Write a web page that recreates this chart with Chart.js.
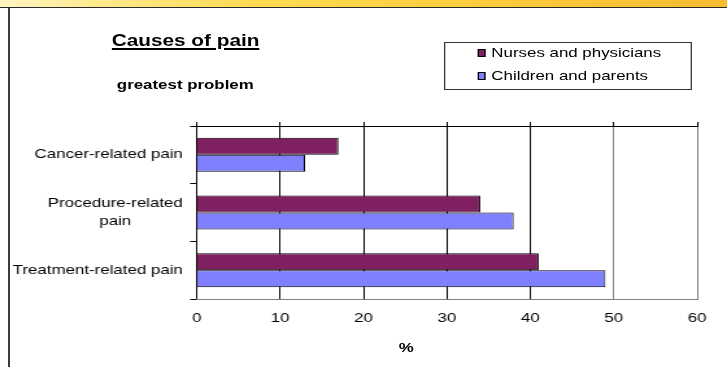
<!DOCTYPE html>
<html>
<head>
    <title>Causes of pain</title>
    <script src="https://cdn.jsdelivr.net/npm/chart.js"></script>
    <style>
        body { margin: 0; background: #fff; overflow: hidden; font-family: "Liberation Sans", Arial, sans-serif; }
        #banner {
            position: absolute; left: 0; top: 0; width: 727px; height: 7px;
            background: linear-gradient(to right, #fff5c4 0%, #ffe98a 14%, #ffdb52 35%, #fdcd3c 65%, #f7bb2f 100%);
            border-bottom: 1px solid #2a2a2a;
            z-index: 2;
        }
        #frame-left { position: absolute; left: 8px; top: 8px; width: 2px; height: 359px; background: #3c3c3c; }
        /* whole chart is drawn narrower and stretched sideways like the source picture */
        #stage {
            position: absolute; left: 0; top: 0; width: 560px; height: 367px;
            transform: scaleX(1.2982); transform-origin: 0 0;
        }
        #chart-box { position: absolute; left: 0; top: 0; width: 560px; height: 367px; }
        #title {
            position: absolute; left: 86px; top: 33px; font-size: 16px; line-height: 16px; font-weight: bold;
            text-decoration: underline; text-decoration-thickness: 2px; text-underline-offset: 2px;
        }
        #subtitle { position: absolute; left: 90px; top: 78px; font-size: 13px; line-height: 13px; font-weight: bold; }
        #legend {
            position: absolute; left: 341.5px; top: 42px; width: 189px; height: 46px;
            border: 1px solid #333;
        }
        .leg-item { position: absolute; left: 0; height: 16px; font-size: 13px; line-height: 16px; white-space: nowrap; }
        .leg-box { position: absolute; left: 25px; top: 4px; width: 4px; height: 6px; border: 1px solid #000; }
        .leg-text { position: absolute; left: 36px; top: 0; }
        #x-title { position: absolute; left: 293px; top: 340px; width: 40px; text-align: center; font-size: 13px; line-height: 16px; font-weight: bold; }
    </style>
</head>
<body>
    <div id="banner"></div>
    <div id="frame-left"></div>

    <div id="stage">
        <div id="chart-box"><canvas id="pain-chart"></canvas></div>
        <div id="title">Causes of pain</div>
        <div id="subtitle">greatest problem</div>
        <div id="legend"></div>
        <div id="x-title">%</div>
    </div>

    <script>
        // data
        const categories = ['Cancer-related pain', ['Procedure-related', 'pain'], 'Treatment-related pain'];
        const seriesNames = ['Nurses and physicians', 'Children and parents'];
        const nursesValues = [17, 34, 41];
        const childrenValues = [13, 38, 49];
        const xTickMin = 0;
        const xTickMax = 60;
        const xTickStep = 10;

        const seriesColors = ['#7f2060', '#8080ff'];
        const fontFamily = '"Liberation Sans", Arial, sans-serif';
        Chart.defaults.font.family = fontFamily;
        Chart.defaults.color = '#000';

        // html legend built from the series
        const legendEl = document.getElementById('legend');
        seriesNames.forEach((name, i) => {
            const item = document.createElement('div');
            item.className = 'leg-item';
            item.style.top = (i === 0 ? 2 : 25) + 'px';
            item.innerHTML = '<span class="leg-box" style="background:' + seriesColors[i] + '"></span>' +
                '<span class="leg-text">' + name + '</span>';
            legendEl.appendChild(item);
        });

        // category labels: block right-aligned, lines centred on each other
        const yLabelPlugin = {
            id: 'yLabels',
            afterDraw(chart) {
                const scale = chart.scales.y;
                const ctx = chart.ctx;
                const lineH = 18.2;
                const rightEdge = scale.right - 10.7;
                ctx.save();
                ctx.font = '13px ' + fontFamily;
                ctx.fillStyle = '#000';
                ctx.textAlign = 'center';
                ctx.textBaseline = 'middle';
                categories.forEach((label, i) => {
                    const lines = Array.isArray(label) ? label : [label];
                    const maxW = Math.max(...lines.map(l => ctx.measureText(l).width));
                    const cx = rightEdge - maxW / 2;
                    const cy = scale.getPixelForTick(i);
                    lines.forEach((l, j) => {
                        ctx.fillText(l, cx, cy + (j - (lines.length - 1) / 2) * lineH);
                    });
                });
                ctx.restore();
            }
        };

        const ctx = document.getElementById('pain-chart').getContext('2d');
        new Chart(ctx, {
            type: 'bar',
            data: {
                labels: categories,
                datasets: [
                    {
                        label: seriesNames[0],
                        data: nursesValues,
                        xAxisID: 'x',
                        backgroundColor: seriesColors[0],
                        borderColor: '#000',
                        borderWidth: 1,
                        categoryPercentage: 0.59,
                        barPercentage: 1.0
                    },
                    {
                        label: seriesNames[1],
                        data: childrenValues,
                        xAxisID: 'x',
                        backgroundColor: seriesColors[1],
                        borderColor: '#000',
                        borderWidth: 1,
                        categoryPercentage: 0.59,
                        barPercentage: 1.0
                    }
                ]
            },
            options: {
                indexAxis: 'y',
                responsive: true,
                maintainAspectRatio: false,
                animation: false,
                layout: { padding: { left: 0, right: 23, top: 0, bottom: 0 } },
                plugins: {
                    legend: { display: false },
                    tooltip: { enabled: false }
                },
                scales: {
                    y: {
                        type: 'category',
                        position: 'left',
                        afterFit: s => { s.width = 151.5; },
                        grid: {
                            offset: true,
                            drawOnChartArea: false,
                            drawTicks: true,
                            tickLength: 5,
                            color: '#000'
                        },
                        border: { display: true, color: '#000' },
                        ticks: { display: false }
                    },
                    x: {
                        type: 'linear',
                        position: 'bottom',
                        min: xTickMin,
                        max: xTickMax,
                        afterFit: s => { s.height = 68; },
                        grid: {
                            drawTicks: false,
                            color: c => (c.tick && c.tick.value >= 50 ? '#808080' : '#000'),
                            lineWidth: 1
                        },
                        border: { display: true, color: '#808080' },
                        ticks: {
                            stepSize: xTickStep,
                            padding: 12,
                            font: { size: 13 },
                            color: '#000'
                        }
                    },
                    xTop: {
                        type: 'linear',
                        axis: 'x',
                        position: 'top',
                        display: true,
                        min: xTickMin,
                        max: xTickMax,
                        afterFit: s => { s.height = 126; },
                        grid: {
                            drawOnChartArea: false,
                            drawTicks: true,
                            tickLength: 4,
                            color: '#000'
                        },
                        border: { display: true, color: '#000' },
                        ticks: { display: false, stepSize: xTickStep }
                    }
                }
            },
            plugins: [yLabelPlugin]
        });
    </script>
</body>
</html>
